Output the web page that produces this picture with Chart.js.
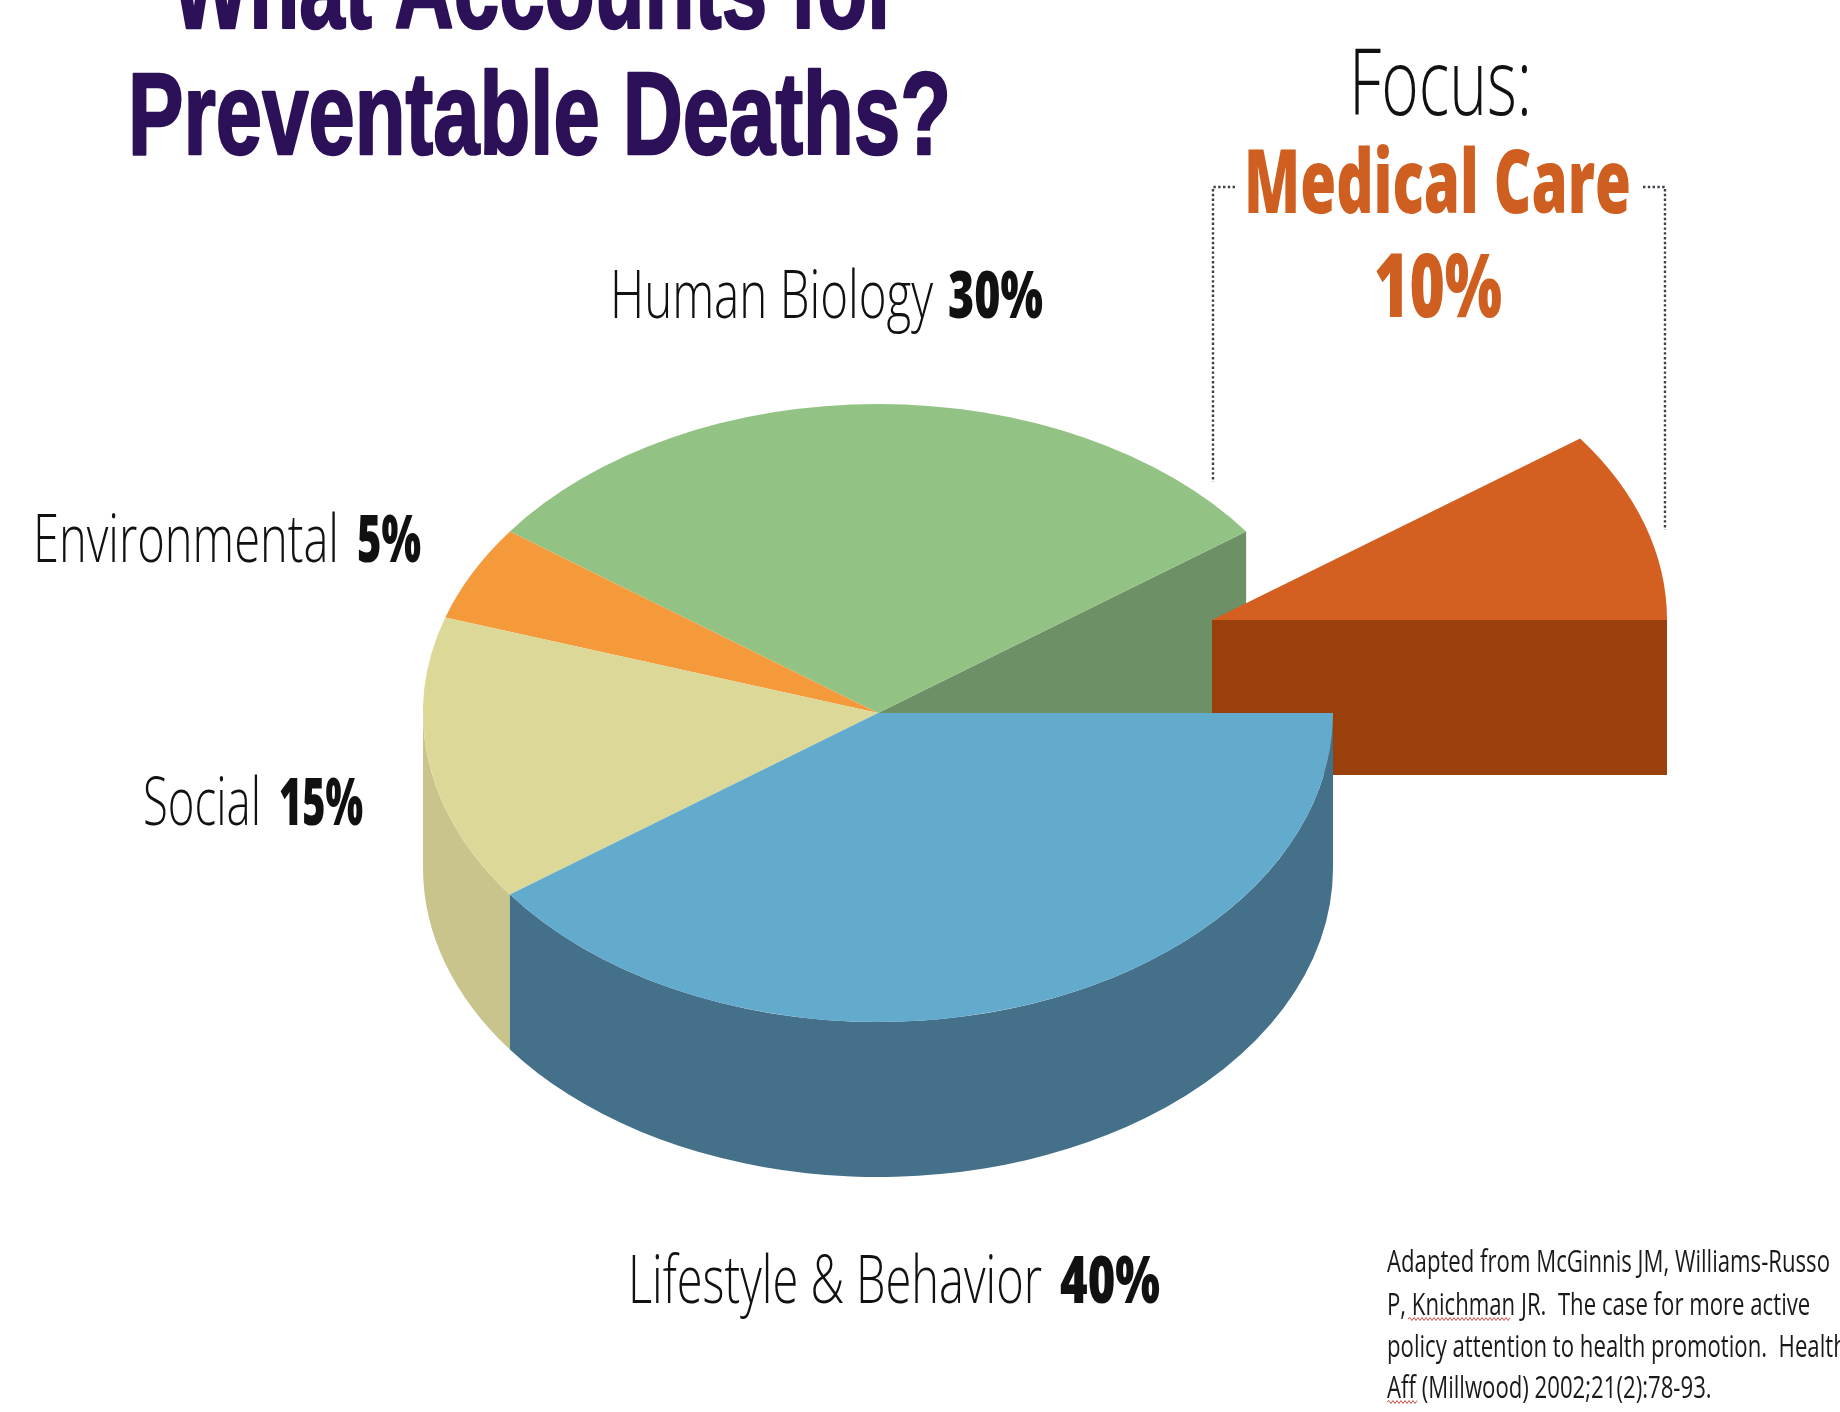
<!DOCTYPE html>
<html>
<head>
<meta charset="utf-8">
<title>What Accounts for Preventable Deaths?</title>
<script src="https://cdn.jsdelivr.net/npm/chart.js@4"></script>
<style>
    html, body { margin: 0; padding: 0; background: #fff; overflow: hidden; }
    canvas { display: block; }
</style>
</head>
<body>
<canvas id="pie" width="1840" height="1412"></canvas>
<script>
// data
const categories = ['Lifestyle & Behavior', 'Social', 'Environmental', 'Human Biology', 'Medical Care'];
const values = [40, 15, 5, 30, 10];
const topColors = ['#63abcd', '#dcd998', '#f59a3b', '#93c384', '#d35f20'];
const sideColors = ['#44708a', '#c8c48c', '#d0822f', '#6e9066', '#9a400d'];
const titleLines = ['What Accounts for', 'Preventable Deaths?'];
const focusLabel = 'Focus:';
const sourceLines = [
    'Adapted from McGinnis JM, Williams-Russo',
    'P, Knichman JR.  The case for more active',
    'policy attention to health promotion.  Health',
    'Aff (Millwood) 2002;21(2):78-93.'
];

// look of the 3d pie
const squash = 0.679;
const depth = 155;
const pulledIndex = 4;
const pullX = 334;
const pullY = -93;

const FACE = '"Open Sans"';
// name box and value box for each category label (pulled slice is handled below)
const labelBoxes = [
    { x: 628, w: 414, vx: 1060, vw: 100, y: 1303, size: 66 },
    { x: 143, w: 118, vx: 279, vw: 84, y: 825, size: 66 },
    { x: 33, w: 306, vx: 357, vw: 64, y: 562, size: 66 },
    { x: 610, w: 323, vx: 948, vw: 95, y: 318, size: 66 }
];

function fitText(ctx, text, font, color, x, y, width, stroke) {
    ctx.font = font;
    const sx = width / ctx.measureText(text).width;
    ctx.save();
    ctx.translate(x, y);
    ctx.scale(sx, 1);
    ctx.textBaseline = 'alphabetic';
    ctx.textAlign = 'left';
    ctx.fillStyle = color;
    ctx.fillText(text, 0, 0);
    if (stroke) {
        ctx.strokeStyle = color;
        ctx.lineWidth = stroke;
        ctx.lineJoin = 'round';
        ctx.strokeText(text, 0, 0);
    }
    ctx.restore();
}

function squiggle(ctx, x0, x1, y) {
    ctx.save();
    ctx.strokeStyle = '#c8504a';
    ctx.lineWidth = 1;
    ctx.beginPath();
    let up = false;
    for (let px = x0; px <= x1; px += 2) {
        if (px === x0) ctx.moveTo(px, y);
        else ctx.lineTo(px, up ? y - 1.5 : y + 1.5);
        up = !up;
    }
    ctx.stroke();
    ctx.restore();
}

function drawTop(ctx, arc, dx, dy) {
    ctx.save();
    ctx.translate(arc.x + dx, arc.y + dy);
    ctx.scale(1, squash);
    ctx.translate(-arc.x, -arc.y);
    arc.draw(ctx);
    ctx.restore();
}

// outer wall of a slice, only the part that faces the viewer
function drawWall(ctx, arc, color) {
    const a0 = Math.max(arc.startAngle, 0);
    const a1 = Math.min(arc.endAngle, Math.PI);
    if (a1 <= a0) return;
    const r = arc.outerRadius;
    ctx.fillStyle = color;
    ctx.beginPath();
    ctx.ellipse(arc.x, arc.y, r, r * squash, 0, a0, a1, false);
    ctx.ellipse(arc.x, arc.y + depth, r, r * squash, 0, a1, a0, true);
    ctx.closePath();
    ctx.fill();
}

function drawBracket(ctx, x, inner, top, bottom) {
    ctx.save();
    ctx.strokeStyle = '#3c4046';
    ctx.lineWidth = 2.4;
    ctx.setLineDash([2.4, 2.4]);
    ctx.beginPath();
    ctx.moveTo(inner, top);
    ctx.lineTo(x, top);
    ctx.lineTo(x, bottom);
    ctx.stroke();
    ctx.restore();
}

const pie3d = {
    id: 'pie3d',
    beforeDatasetDraw(chart) {
        const ctx = chart.ctx;
        const arcs = chart.getDatasetMeta(0).data;
        const pulled = arcs[pulledIndex];
        const r = pulled.outerRadius;

        // face left open where the slice was pulled out
        const neighbour = arcs[pulledIndex - 1];
        const cut = neighbour.endAngle;
        const rimX = neighbour.x + Math.cos(cut) * r;
        const rimY = neighbour.y + Math.sin(cut) * r * squash;
        ctx.fillStyle = sideColors[pulledIndex - 1];
        ctx.beginPath();
        ctx.moveTo(neighbour.x, neighbour.y);
        ctx.lineTo(rimX, rimY);
        ctx.lineTo(rimX, neighbour.y);
        ctx.closePath();
        ctx.fill();

        // pulled slice
        ctx.fillStyle = sideColors[pulledIndex];
        ctx.fillRect(pulled.x + pullX, pulled.y + pullY, r, depth);
        drawTop(ctx, pulled, pullX, pullY);

        // rest of the pie, back to front
        [3, 2, 1, 0].forEach(i => {
            drawWall(ctx, arcs[i], sideColors[i]);
            drawTop(ctx, arcs[i], 0, 0);
        });
        return false;
    },
    afterDraw(chart) {
        const ctx = chart.ctx;

        // heading, first line runs off the top of the slide
        const titleFont = 'bold 116px "Liberation Sans"';
        fitText(ctx, titleLines[0], titleFont, '#2c1159', 172, 28, 727, 2.5);
        fitText(ctx, titleLines[1], titleFont, '#2c1159', 128, 154, 823, 2.5);

        // category labels
        labelBoxes.forEach((b, i) => {
            fitText(ctx, categories[i], `300 ${b.size}px ${FACE}`, '#111', b.x, b.y, b.w);
            fitText(ctx, values[i] + '%', `800 ${b.size}px ${FACE}`, '#111', b.vx, b.y, b.vw);
        });

        // focus block
        fitText(ctx, focusLabel, `300 92px ${FACE}`, '#111', 1349, 115, 183);
        fitText(ctx, categories[pulledIndex], `800 88px ${FACE}`, '#cf5f20', 1244, 213, 387);
        fitText(ctx, values[pulledIndex] + '%', `800 88px ${FACE}`, '#cf5f20', 1374, 317, 128);

        drawBracket(ctx, 1213, 1235, 187, 482);
        drawBracket(ctx, 1665, 1643, 187, 530);

        // source note
        const noteFont = `31px ${FACE}`;
        ctx.font = noteFont;
        const noteScale = 443 / ctx.measureText(sourceLines[0]).width;
        const noteY = [1272, 1315, 1357, 1398];
        sourceLines.forEach((line, i) => {
            ctx.font = noteFont;
            fitText(ctx, line, noteFont, '#1a1a1a', 1387, noteY[i], ctx.measureText(line).width * noteScale);
        });
        squiggle(ctx, 1408, 1510, 1319);
        squiggle(ctx, 1387, 1417, 1402);
    }
};

new Chart(document.getElementById('pie'), {
    type: 'pie',
    data: {
        labels: categories,
        datasets: [{
            data: values,
            backgroundColor: topColors,
            borderWidth: 0
        }]
    },
    options: {
        responsive: false,
        animation: false,
        rotation: 90,
        layout: { padding: { left: 423, right: 507, top: 258, bottom: 244 } },
        plugins: {
            legend: { display: false },
            tooltip: { enabled: false }
        }
    },
    plugins: [pie3d]
});
</script>
</body>
</html>
